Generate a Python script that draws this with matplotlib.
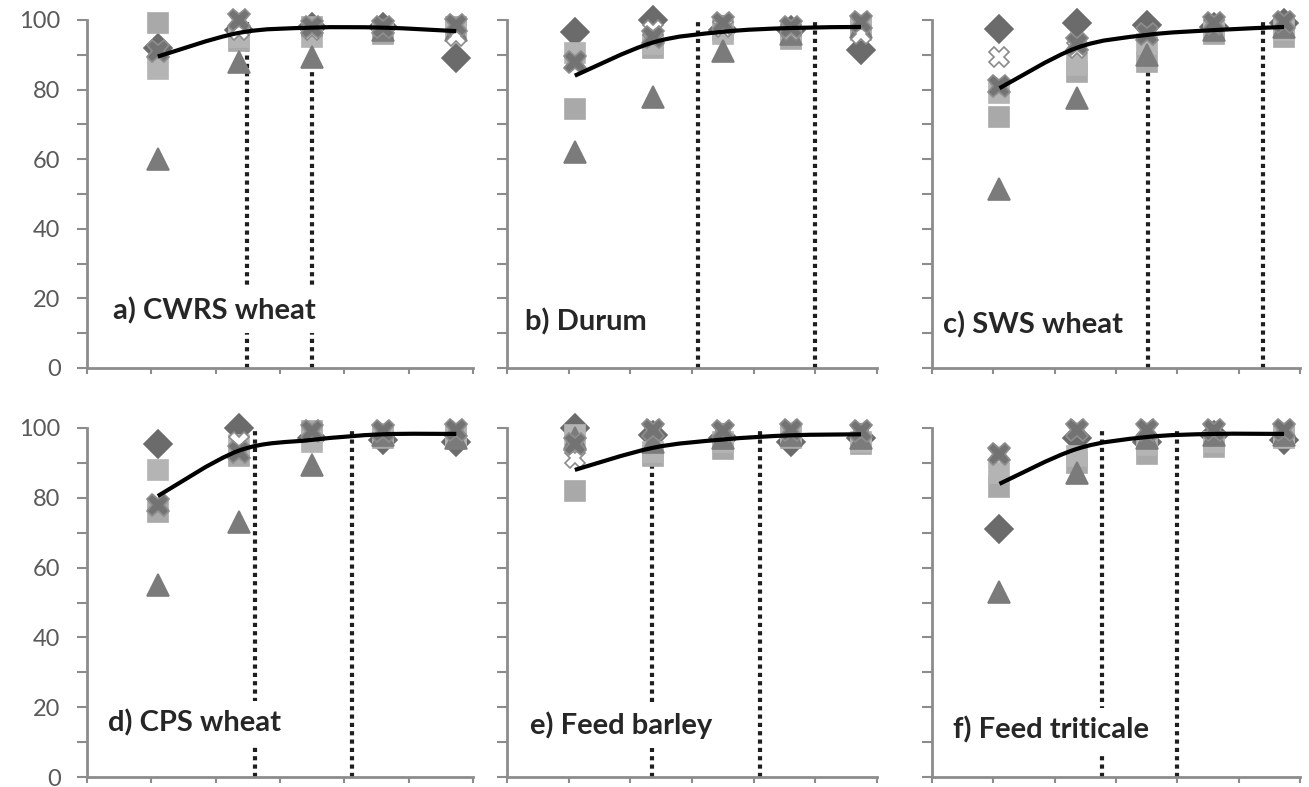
import numpy as np
import matplotlib
matplotlib.use('Agg')
import matplotlib.pyplot as plt
from matplotlib.path import Path
from matplotlib.patches import PathPatch

plt.rcParams['font.family'] = ['Lato', 'DejaVu Sans']

# точки по оси X (одинаковые для всех панелей)
x_pts = [1.1, 2.36, 3.5, 4.6, 5.74]

titles = ['a) CWRS wheat', 'b) Durum', 'c) SWS wheat',
          'd) CPS wheat', 'e) Feed barley', 'f) Feed triticale']

# значения серий, по строке на панель (a..f)
diamond = [
    [92, 97, 98, 98, 89],
    [96.5, 100, 97, 97, 91.5],
    [97.5, 99, 98.5, 98, 99],
    [95.5, 100, 97, 96.5, 96],
    [100, 98, 97, 96, 97],
    [71, 97, 96, 98, 96.5],
]
square = [
    [99, 94, 98, 96, 98],
    [74.5, 92, 97, 94.5, 98],
    [72, 85, 88, 96, 95],
    [76, 92, 99, 97, 98],
    [82, 92, 94, 97, 95.5],
    [83, 90, 92.5, 94.5, 98],
]
square_light = [
    [86, 95, 95, 97, 97],
    [90.5, 93, 96, 96, 97],
    [79, 87, 93, 97, 97],
    [88, 95, 96, 98, 97],
    [98, 93, 96, 98, 96],
    [87, 92, 95, 96, 97],
]
triangle = [
    [60, 88, 89.5, 97, 97],
    [62, 78, 91, 96, 98],
    [51.5, 77.5, 90, 97, 98],
    [55, 73, 89.5, 98, 97],
    [97, 96, 97, 98, 97],
    [53, 87, 97, 98, 98],
]
hollow_x = [
    [91, 97, 97, 98, 95.5],
    [88, 97, 98, 97, 96],
    [89.5, 92, 96, 98.5, 99.5],
    [78, 96, 99, 99, 99.5],
    [91.5, 99.5, 99, 99.5, 99],
    [92.5, 99.5, 99.5, 99.5, 99.5],
]
cross = [
    [91, 100, 98, 98, 98.5],
    [88, 95, 99, 98, 99.5],
    [81, 93, 96, 99, 99.5],
    [78, 93, 99, 99, 99.5],
    [95.5, 99.5, 99, 99.5, 99],
    [92.5, 99.5, 99.5, 99.5, 99.5],
]
# сглаженная кривая (значения в тех же точках)
curve = [
    [89.5, 96.3, 97.8, 97.8, 96.8],
    [84, 93.5, 96.6, 97.7, 98.0],
    [80.4, 92, 95.7, 97.1, 98.0],
    [80.5, 93.5, 96.6, 98.2, 98.3],
    [88, 94.3, 96.7, 97.9, 98.2],
    [84, 94, 97.4, 98.3, 98.3],
]
# вертикальные пунктирные линии
dotted = [[2.49, 3.5], [3.1, 5.0], [3.52, 5.39],
          [2.61, 4.12], [2.35, 4.1], [2.77, 4.0]]

# положение подписей панелей
label_pos = [(0.4, 16.5), (0.29, 13.2), (0.18, 12.4),
             (0.33, 15.5), (0.37, 14.9), (0.34, 13.5)]

W, H = 1309, 787
col_left = [87, 507, 932]
col_width = [386, 370, 368]
row_y0 = [368, 777]     # пиксель значения 0
row_y100 = [20, 428]    # пиксель значения 100

series_style = [
    (diamond, 'D', 14, '#6b6b6b', '#6b6b6b'),
    (square, 's', 15, '#a9a9a9', '#a9a9a9'),
    (square_light, 's', 15, '#b4b4b4', '#b4b4b4'),
    (triangle, '^', 16, '#7b7b7b', '#7b7b7b'),
    (hollow_x, 'X', 15, 'white', '#8a8a8a'),
    (cross, 'X', 16, '#737373', '#8e8e8e'),
]


def smooth_path(xs, ys):
    # сглаживание как в Excel: кривые Безье через точки
    pts = np.column_stack([xs, ys])
    n = len(pts)
    verts = [pts[0]]
    codes = [Path.MOVETO]
    for i in range(n - 1):
        p0 = pts[max(i - 1, 0)]
        p1 = pts[i]
        p2 = pts[i + 1]
        p3 = pts[min(i + 2, n - 1)]
        c1 = p1 + (p2 - p0) / 6
        c2 = p2 - (p3 - p1) / 6
        verts += [c1, c2, p2]
        codes += [Path.CURVE4] * 3
    return Path(verts, codes)


fig = plt.figure(figsize=(W / 100, H / 100), dpi=100)
gray = '#8c8c8c'

for k in range(6):
    r, c = divmod(k, 3)
    rect = [col_left[c] / W, (H - row_y0[r]) / H,
            col_width[c] / W, (row_y0[r] - row_y100[r]) / H]
    ax = fig.add_axes(rect)
    ax.set_xlim(0, 6)
    ax.set_ylim(0, 100)

    for side in ['top', 'right']:
        ax.spines[side].set_visible(False)
    for side in ['left', 'bottom']:
        ax.spines[side].set_color(gray)
        ax.spines[side].set_linewidth(2)
        ax.spines[side].set_zorder(6)
    ax.xaxis.set_zorder(6)
    ax.yaxis.set_zorder(6)

    ax.set_xticks(range(7))
    ax.set_xticklabels([])
    ax.set_yticks(range(0, 101, 10))
    ax.set_yticklabels([str(v) if v % 20 == 0 else '' for v in range(0, 101, 10)])
    ax.tick_params(axis='y', direction='out', length=7, width=1.5, color=gray,
                   pad=12, labelsize=17, labelcolor='#595959', labelleft=(c == 0))
    ax.tick_params(axis='x', direction='out', length=4, width=1.5, color=gray)

    # пунктирные линии
    for xv in dotted[k]:
        ax.plot([xv, xv], [0, 99.5], color='#1e1e1e', lw=3,
                linestyle=(0, (1, 1)), zorder=2)

    # маркеры серий
    for vals, mk, ms, fc, ec in series_style:
        ax.plot(x_pts, vals[k], linestyle='none', marker=mk, markersize=ms,
                markerfacecolor=fc, markeredgecolor=ec, markeredgewidth=1.2,
                clip_on=False, zorder=3)

    # сглаженная кривая
    patch = PathPatch(smooth_path(x_pts, curve[k]), facecolor='none',
                      edgecolor='black', lw=3, zorder=4, clip_on=False)
    ax.add_patch(patch)

    lx, ly = label_pos[k]
    ax.text(lx, ly, titles[k], ha='left', va='center', fontsize=21,
            fontweight='bold', color='#262626', zorder=5,
            bbox=dict(boxstyle='square,pad=0.3', facecolor='white', edgecolor='none'))

plt.savefig('out.png', dpi=100)
